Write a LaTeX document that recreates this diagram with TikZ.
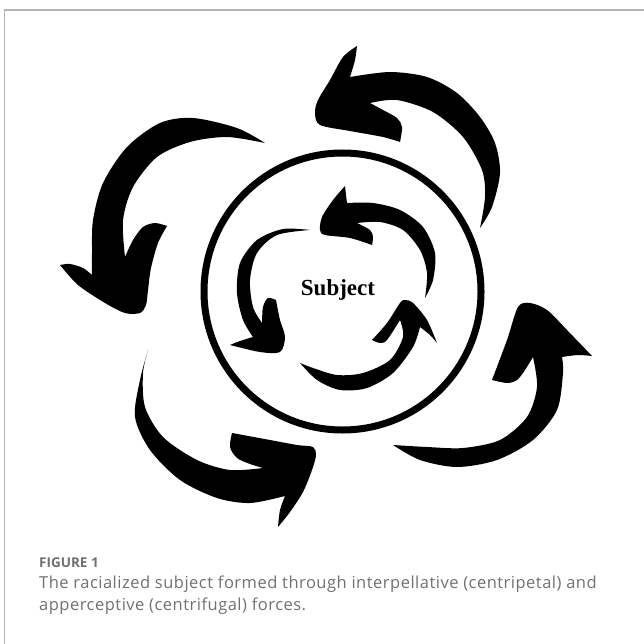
\documentclass[tikz,border=0pt]{standalone}
\usepackage{fontspec}
\setmainfont{Open Sans}
\newfontfamily\subjfont{Liberation Serif}
\newfontfamily\capfont[LetterSpace=3]{Open Sans}
\definecolor{capgray}{HTML}{707070}
\definecolor{framegray}{HTML}{B4B4B4}
\tikzset{
  brush/.style={fill=black, draw=none},
  captext/.style={anchor=base west, inner sep=0pt, text=capgray},
}
\begin{document}
\begin{tikzpicture}[x=1pt,y=-1pt]
\useasboundingbox (0,0) rectangle (644,644);
\draw[framegray, line width=1.2pt] (4.5,644) -- (4.5,10) -- (644,10);

% central ring and label
\node[circle, draw, line width=7pt, minimum size=277pt, inner sep=0pt] (ring) at (342.5,291.5) {};
\node[font=\subjfont\bfseries\fontsize{23}{23}\selectfont, inner sep=0pt] (subject) at (338,289.5) {Subject};

% ---- outer arrows ----
% top
\fill[brush]
  plot[smooth] coordinates {(480,228) (492,207) (500,173) (495,143) (480,117) (457,93) (427,77) (390,72) (350,77)}
  -- plot[smooth] coordinates {(350,77) (355,60) (357,46)}
  -- plot[smooth] coordinates {(357,46) (343,57) (330,80) (318,100) (315,113) (320,125) (350,131) (383,137) (400,142)}
  -- plot[smooth] coordinates {(400,142) (402,127) (397,118) (383,110) (370,103)}
  -- plot[smooth] coordinates {(370,103) (397,100) (433,112) (463,137) (482,170) (485,197) (480,228)}
  -- cycle;
% left
\fill[brush]
  plot[smooth] coordinates {(265,143) (237,128) (193,118) (160,123) (127,147) (103,183) (93,220) (92,253) (92,275)}
  -- plot[smooth] coordinates {(92,275) (83,268) (70,264) (60,265)}
  -- plot[smooth] coordinates {(60,265) (78,285) (105,303) (125,313) (140,313) (146,305) (148,290) (151,268) (158,243) (167,226)}
  -- plot[smooth] coordinates {(167,226) (155,223) (143,227) (133,240) (125,257)}
  -- plot[smooth] coordinates {(125,257) (123,220) (133,187) (157,157) (190,142) (227,137) (265,143)}
  -- cycle;
% bottom-left
\fill[brush]
  plot[smooth] coordinates {(148,350) (140,380) (135,417) (150,450) (180,480) (217,498) (250,503) (285,496)}
  -- plot[smooth] coordinates {(285,496) (280,510) (278,527)}
  -- plot[smooth] coordinates {(278,527) (290,512) (303,492) (312,470) (316,455) (313,447) (297,445) (270,440) (243,435) (232,433)}
  -- plot[smooth] coordinates {(232,433) (230,447) (237,458) (250,464) (263,468)}
  -- plot[smooth] coordinates {(263,468) (230,470) (197,460) (163,437) (145,407) (143,373) (148,350)}
  -- cycle;
% right
\fill[brush]
  plot[smooth] coordinates {(393,445) (420,460) (457,467) (497,460) (533,440) (557,410) (563,373) (562,357)}
  -- plot[smooth] coordinates {(562,357) (578,355) (592,356)}
  -- plot[smooth] coordinates {(592,356) (567,330) (547,310) (530,303) (518,307) (507,340) (492,380)}
  -- plot[smooth] coordinates {(492,380) (507,383) (517,380) (525,370) (533,357)}
  -- plot[smooth] coordinates {(533,357) (537,387) (527,417) (500,440) (463,448) (427,447) (393,445)}
  -- cycle;

% ---- inner arrows ----
% top
\fill[brush]
  plot[smooth] coordinates {(425,298) (433,280) (435,253) (423,227) (400,210) (373,203) (347,203)}
  -- plot[smooth] coordinates {(347,203) (346,195) (345,186)}
  -- plot[smooth] coordinates {(345,186) (333,200) (322,217) (320,230) (325,235) (350,238) (372,245)}
  -- plot[smooth] coordinates {(372,245) (373,237) (370,230) (357,223)}
  -- plot[smooth] coordinates {(357,223) (380,222) (403,230) (420,250) (427,273) (425,298)}
  -- cycle;
% left
\fill[brush]
  plot[smooth] coordinates {(310,230) (283,229) (257,240) (240,263) (237,293) (243,320) (253,337)}
  -- plot[smooth] coordinates {(253,337) (240,341) (230,345)}
  -- plot[smooth] coordinates {(230,345) (260,352) (280,352) (285,337) (280,320) (276,300)}
  -- plot[smooth] coordinates {(276,300) (268,298) (263,307) (262,323)}
  -- plot[smooth] coordinates {(262,323) (253,307) (250,280) (257,253) (277,235) (310,230)}
  -- cycle;
% bottom-right
\fill[brush]
  plot[smooth] coordinates {(300,363) (317,380) (340,390) (367,388) (393,373) (413,347) (420,327)}
  -- plot[smooth] coordinates {(420,327) (430,335) (437,343)}
  -- plot[smooth] coordinates {(437,343) (427,320) (413,303) (405,300) (400,303) (387,323) (372,340)}
  -- plot[smooth] coordinates {(372,340) (380,343) (387,340) (400,320)}
  -- plot[smooth] coordinates {(400,320) (403,337) (390,360) (363,373) (337,375) (313,368) (300,363)}
  -- cycle;

% caption
\node[captext, font=\bfseries\fontsize{13.5}{15}\selectfont] (fig) at (39,567) {FIGURE 1};
\node[captext, font=\capfont\fontsize{16.5}{20}\selectfont] (cap1) at (39,588) {The racialized subject formed through interpellative (centripetal) and};
\node[captext, font=\capfont\fontsize{16.5}{20}\selectfont] (cap2) at (39,610) {apperceptive (centrifugal) forces.};
\end{tikzpicture}
\end{document}
